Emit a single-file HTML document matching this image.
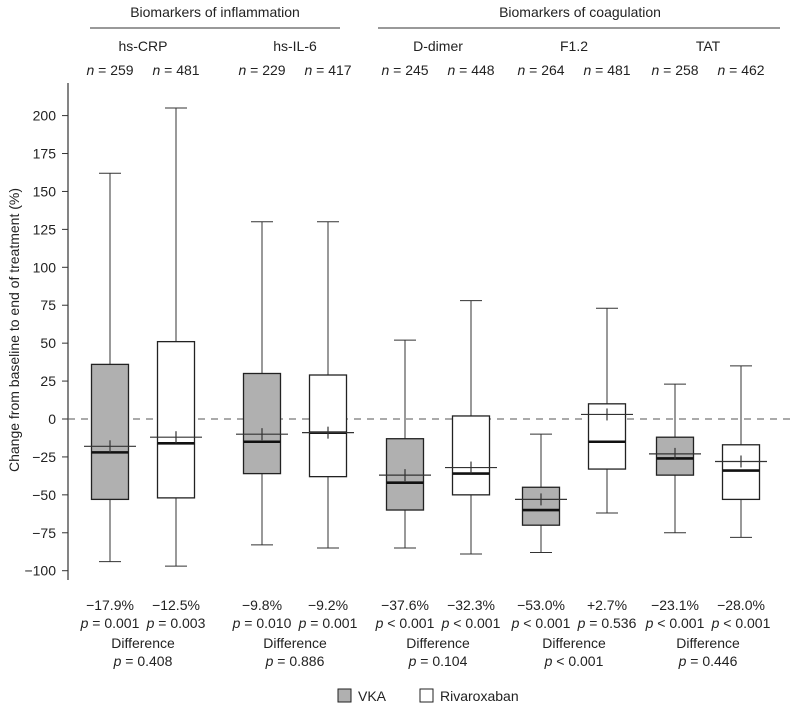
<!DOCTYPE html>
<html><head><meta charset="utf-8"><style>
body{margin:0;background:#fff}
svg text{font-family:"Liberation Sans",sans-serif;fill:#222}
</style></head><body>
<svg id="c" width="800" height="716" xmlns="http://www.w3.org/2000/svg">
</svg>
<script>
const groups=["hs-CRP","hs-IL-6","D-dimer","F1.2","TAT"];
const nVals=[259,481,229,417,245,448,264,481,258,462];
const q3=[36,51,30,29,-13,2,-45,10,-12,-17];
const q1=[-53,-52,-36,-38,-60,-50,-70,-33,-37,-53];
const med=[-22,-16,-15,-9,-42,-36,-60,-15,-26,-34];
const mean=[-18,-12,-10,-9,-37,-32,-53,3,-23,-28];
const wLo=[-94,-97,-83,-85,-85,-89,-88,-62,-75,-78];
const wHi=[162,205,130,130,52,78,-10,73,23,35];
const pctLabels=["\u221217.9%","\u221212.5%","\u22129.8%","\u22129.2%","\u221237.6%","\u221232.3%","\u221253.0%","+2.7%","\u221223.1%","\u221228.0%"];
const pLabels=["= 0.001","= 0.003","= 0.010","= 0.001","< 0.001","< 0.001","< 0.001","= 0.536","< 0.001","< 0.001"];
const diffP=["= 0.408","= 0.886","= 0.104","< 0.001","= 0.446"];
const yTicks=[200,175,150,125,100,75,50,25,0,-25,-50,-75,-100];
const centers=[110,176,262,328,405,471,541,607,675,741];
const svg=document.getElementById('c');const NS="http://www.w3.org/2000/svg";
const y=v=>419-v*1.517;
function mk(t,a,name,txt){const e=document.createElementNS(NS,t);for(const k in a)e.setAttribute(k,a[k]);


if(txt!==undefined)e.textContent=txt;svg.appendChild(e);return e;}
mk('line',{x1:68,y1:83,x2:68,y2:580,stroke:'#333','stroke-width':1.2},'y-axis');
yTicks.forEach(v=>{mk('line',{x1:62,x2:68,y1:y(v),y2:y(v),stroke:'#333'},'y-tick');
mk('text',{x:56,y:y(v)+5,'text-anchor':'end','font-size':14},'y-tick-label',v<0?'\u2212'+(-v):String(v));});
mk('text',{x:0,y:0,transform:'translate(19,330) rotate(-90)','text-anchor':'middle','font-size':14},'y-axis-title','Change from baseline to end of treatment (%)');
mk('line',{x1:68,x2:790,y1:y(0),y2:y(0),stroke:'#555','stroke-dasharray':'7,6'},'zero-line');
mk('text',{x:215,y:17,'text-anchor':'middle','font-size':14},'header-inflammation','Biomarkers of inflammation');
mk('line',{x1:90,x2:340,y1:28,y2:28,stroke:'#333'},'header-line-inflammation');
mk('text',{x:580,y:17,'text-anchor':'middle','font-size':14},'header-coagulation','Biomarkers of coagulation');
mk('line',{x1:378,x2:780,y1:28,y2:28,stroke:'#333'},'header-line-coagulation');
groups.forEach((g,i)=>{const cx=(centers[2*i]+centers[2*i+1])/2;
mk('text',{x:cx,y:51,'text-anchor':'middle','font-size':14},'group-label',g);
mk('text',{x:cx,y:648,'text-anchor':'middle','font-size':14},'difference-label','Difference');
const t=mk('text',{x:cx,y:666,'text-anchor':'middle','font-size':14},'difference-p','');
t.innerHTML='<tspan font-style="italic">p</tspan> '+diffP[i];});
centers.forEach((cx,i)=>{const fill=i%2==0?'#b0b0b0':'#fff';
const t=mk('text',{x:cx,y:75,'text-anchor':'middle','font-size':14},'n-label','');
t.innerHTML='<tspan font-style="italic">n</tspan> = '+nVals[i];
mk('line',{x1:cx,x2:cx,y1:y(wHi[i]),y2:y(q3[i]),stroke:'#333'},'whisker-upper');
mk('line',{x1:cx,x2:cx,y1:y(q1[i]),y2:y(wLo[i]),stroke:'#333'},'whisker-lower');
mk('line',{x1:cx-11,x2:cx+11,y1:y(wHi[i]),y2:y(wHi[i]),stroke:'#333'},'whisker-cap');
mk('line',{x1:cx-11,x2:cx+11,y1:y(wLo[i]),y2:y(wLo[i]),stroke:'#333'},'whisker-cap');
mk('rect',{x:cx-18.5,y:y(q3[i]),width:37,height:y(q1[i])-y(q3[i]),fill:fill,stroke:'#222','stroke-width':1.3},'box');
mk('line',{x1:cx-18.5,x2:cx+18.5,y1:y(med[i]),y2:y(med[i]),stroke:'#111','stroke-width':2.6},'median');
mk('line',{x1:cx-26,x2:cx+26,y1:y(mean[i]),y2:y(mean[i]),stroke:'#333','stroke-width':1.2},'mean-line');
mk('line',{x1:cx,x2:cx,y1:y(mean[i])-6,y2:y(mean[i])+6,stroke:'#333','stroke-width':1.2},'mean-tick');
mk('text',{x:cx,y:610,'text-anchor':'middle','font-size':14},'pct-change',pctLabels[i]);
const p=mk('text',{x:cx,y:628,'text-anchor':'middle','font-size':14},'p-value','');
p.innerHTML='<tspan font-style="italic">p</tspan> '+pLabels[i];});
mk('rect',{x:338,y:689,width:13,height:13,fill:'#b0b0b0',stroke:'#222'},'legend-vka-swatch');
mk('text',{x:358,y:701,'font-size':14},'legend-vka','VKA');
mk('rect',{x:420,y:689,width:13,height:13,fill:'#fff',stroke:'#222'},'legend-rivaroxaban-swatch');
mk('text',{x:440,y:701,'font-size':14},'legend-rivaroxaban','Rivaroxaban');
</script>
</body></html>
